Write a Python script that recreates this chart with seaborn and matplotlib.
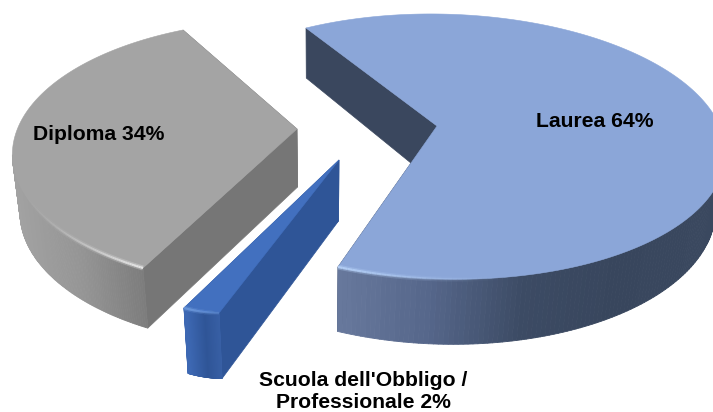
import numpy as np
import matplotlib
matplotlib.use("Agg")
import matplotlib.pyplot as plt
from matplotlib.patches import Polygon
from matplotlib.collections import PolyCollection, LineCollection
import seaborn as sns

# data
categories = ["Laurea", "Scuola dell'Obbligo /\nProfessionale", "Diploma"]
values = [64, 2, 34]

# styling and projection (image anchors of each slice: centre, rim start, rim middle, rim end)
anchors = {
    "Laurea": [(437, 126), (306, 28), (714, 115), (338, 267)],
    "Scuola dell'Obbligo /\nProfessionale": [(339, 160), (219, 313), (201.5, 311.6), (184, 308)],
    "Diploma": [(297, 129), (143, 268), (17, 130), (183, 30)],
}
styles = {
    "Laurea": dict(top="#8ba6d8", wall="#3a475e", h0=56, k=.06,
                   side=["#68799d", "#55668a", "#3c4b64", "#38465d", "#3a485f"], sx=(338, 713),
                   bevel=(520, 338, "#b4cff6")),
    "Scuola dell'Obbligo /\nProfessionale": dict(top="#4270bf", wall="#2f5597", h0=60, k=.03,
                   side=["#3d68b3", "#2f5597", "#3a62a8"], sx=(186, 222),
                   bevel=(250, 190, "#78a4e6")),
    "Diploma": dict(top="#a4a4a4", wall="#767676", h0=58, k=.015,
                   side=["#a2a2a2", "#959595", "#7c7c7c"], sx=(14, 145),
                   bevel=(20, 143, "#e6e6e6")),
}
label_pos = {
    "Laurea": (594.5, 121),
    "Scuola dell'Obbligo /\nProfessionale": (363, 391),
    "Diploma": (99, 134),
}
VANISH = np.array([320.0, 2500.0])

sns.set_theme(style="white")
plt.rcParams["font.family"] = ["Liberation Sans", "DejaVu Sans"]

fig = plt.figure(figsize=(7.13, 4.12), dpi=100)
ax = fig.add_axes([0, 0, 1, 1])
ax.set_xlim(0, 713)
ax.set_ylim(412, 0)
ax.axis("off")


def disc(frac):
    phi = -2 * np.pi * np.asarray(frac)
    return np.cos(phi), np.sin(phi)


def homography(src, dst):
    A, b = [], []
    for (x, y), (u, v) in zip(src, dst):
        A.append([x, y, 1, 0, 0, 0, -u * x, -u * y]); b.append(u)
        A.append([0, 0, 0, x, y, 1, -v * x, -v * y]); b.append(v)
    h = np.linalg.solve(np.array(A, float), np.array(b, float))
    return np.append(h, 1).reshape(3, 3)


def project(H, x, y):
    w = H[2, 0] * x + H[2, 1] * y + H[2, 2]
    return np.column_stack([(H[0, 0] * x + H[0, 1] * y + H[0, 2]) / w,
                            (H[1, 0] * x + H[1, 1] * y + H[1, 2]) / w])


def extrude(pts, st):
    pts = np.atleast_2d(pts)
    h = st["h0"] + st["k"] * (pts[:, 1] - 127)
    t = h / (VANISH[1] - pts[:, 1])
    return pts + (VANISH - pts) * t[:, None]


fracs = np.array(values, float) / sum(values)
ends = np.cumsum(fracs)
starts = ends - fracs

for cat, val, s0, s1 in zip(categories, values, starts, ends):
    st = styles[cat]
    a = anchors[cat]
    mid = (s0 + s1) / 2
    src = [(0.0, 0.0), disc(s0), disc(mid), disc(s1)]
    H = homography([tuple(map(float, p)) for p in src], a)
    fr = np.linspace(s0, s1, 260)
    rim = project(H, *disc(fr))
    centre = project(H, np.array([0.0]), np.array([0.0]))
    rim_b = extrude(rim, st)
    centre_b = extrude(centre, st)

    # radial walls
    for edge, edge_b in ((rim[0], rim_b[0]), (rim[-1], rim_b[-1])):
        ax.add_patch(Polygon([centre[0], edge, edge_b, centre_b[0]], closed=True,
                             fc=st["wall"], ec=st["wall"], lw=.5, zorder=2))
    # curved side with its horizontal gradient; only the rim part that faces the viewer
    pal = sns.blend_palette(st["side"], n_colors=128)
    front = np.diff(rim[:, 0]) < 0
    quads, cols = [], []
    for i in np.flatnonzero(front):
        quads.append([rim[i], rim[i + 1], rim_b[i + 1], rim_b[i]])
        pos = (rim[i, 0] - st["sx"][0]) / (st["sx"][1] - st["sx"][0])
        cols.append(pal[int(np.clip(pos, 0, 1) * 127)])
    ax.add_collection(PolyCollection(quads, facecolors=cols, edgecolors=cols, lw=.6, zorder=3))
    # top face
    ax.add_patch(Polygon(np.vstack([centre, rim]), closed=True, fc=st["top"], ec=st["top"],
                         lw=.4, zorder=4))
    # rim bevel highlight: a soft band under a brighter core
    off, on, col = st["bevel"]
    w = np.clip((rim[:-1, 0] - off) / (on - off), 0, 1) ** 1.5 * front
    segs = [[rim[i], rim[i + 1]] for i in range(len(rim) - 1)]
    rgb = matplotlib.colors.to_rgb(col)
    ax.add_collection(LineCollection(segs, colors=[(*rgb, float(v) * .35) for v in w],
                                     linewidths=3.6, capstyle="butt", zorder=5))
    ax.add_collection(LineCollection(segs, colors=[(*rgb, float(v)) for v in w],
                                     linewidths=1.6, capstyle="butt", zorder=5))
    # label
    x, y = label_pos[cat]
    ax.text(x, y, f"{cat} {val}%", ha="center", va="center", fontsize=15.2, fontweight="bold",
            color="black", linespacing=1.2, zorder=6)

fig.savefig("out.png", dpi=100, facecolor="white")
